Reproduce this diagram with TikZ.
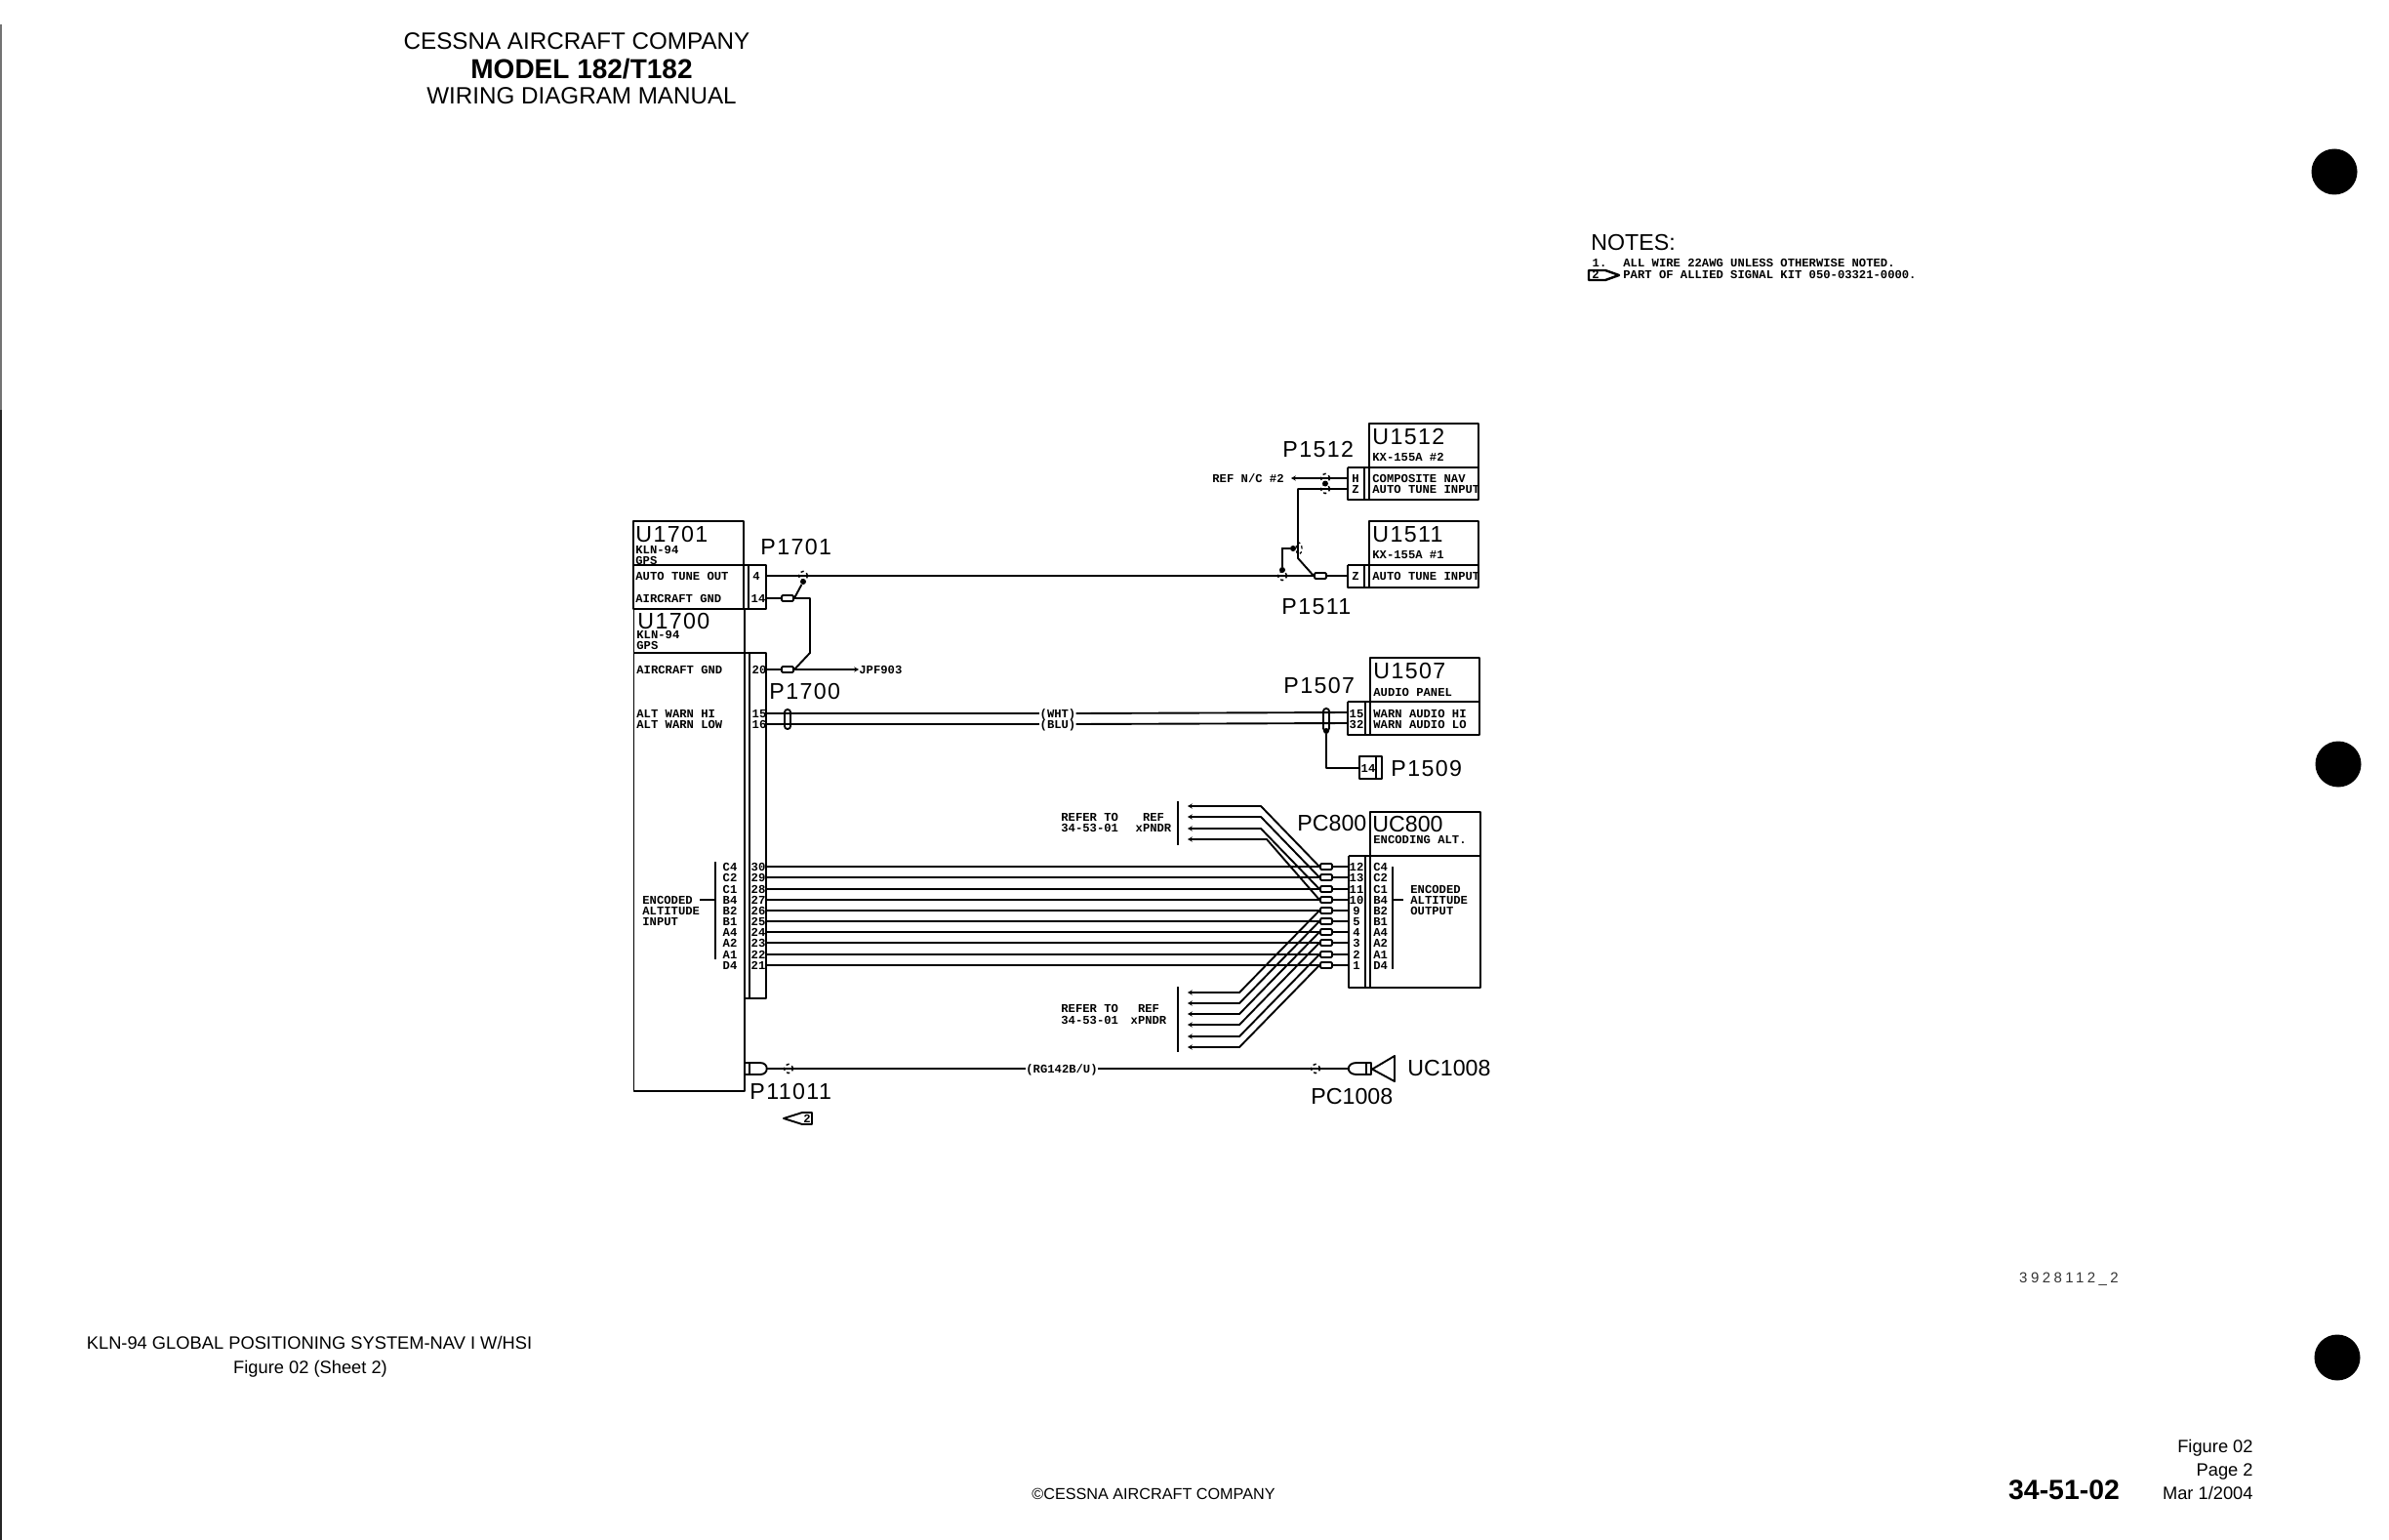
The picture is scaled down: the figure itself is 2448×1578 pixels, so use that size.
\documentclass[tikz,border=0pt]{standalone}
\usepackage{fontspec}
\usetikzlibrary{arrows.meta,shapes.geometric}
\setmainfont{Liberation Sans}
\newfontfamily\smf{Liberation Mono}
\newfontfamily\lblf[LetterSpace=6]{Liberation Sans}
\newfontfamily\lblg{Liberation Sans}
\newfontfamily\codef[LetterSpace=23]{Liberation Sans}
\tikzset{
  px/.style={x=0.5pt,y=-0.5pt},
  ln/.style={line width=0.95pt,line join=round},
  sm/.style={font=\fontsize{6.1}{6}\smf\bfseries,inner sep=0pt,text height=4pt,text depth=0pt},
  smw/.style={sm,anchor=west},
  big/.style={font=\fontsize{11.6}{12}\lblf,inner sep=0pt,text height=8.3pt,text depth=0pt,anchor=west},
  bigt/.style={big,font=\fontsize{11.6}{12}\lblg},
  hdr/.style={inner sep=0pt,text height=8.7pt,text depth=0pt,font=\fontsize{12.1}{13}\selectfont},
  foot/.style={inner sep=0pt,text height=6.6pt,text depth=0pt,font=\fontsize{9.15}{10}\selectfont},
  crimp/.style={draw,ln,rounded corners=0.6pt,minimum width=6pt,minimum height=3pt,inner sep=0pt},
  splice/.style={circle,draw,line width=0.7pt,dash pattern=on 1.6pt off 1.6pt,minimum size=4.6pt,inner sep=0pt},
  dot/.style={circle,fill=black,minimum size=3pt,inner sep=0pt},
  stub/.style={ln,{Stealth[length=2.4pt,width=2.6pt]}-},
  hole/.style={circle,fill=black,minimum size=23.5pt,inner sep=0pt}
}
\begin{document}
\begin{tikzpicture}[px]
\path[use as bounding box] (0,0) rectangle (2448,1578);
% page edge
\coordinate (edgeA) at (1,25); \coordinate (edgeB) at (1,420); \coordinate (edgeC) at (1,1578);
\draw[line width=0.6pt,black!55] (edgeA) -- (edgeB);
\draw[line width=1.1pt,black!85] (edgeB) -- (edgeC);
% binder holes
\node[hole] (holeA) at (2392,176) {};
\node[hole] (holeB) at (2396,783) {};
\node[hole] (holeC) at (2395,1391) {};
% header / footer
\node[hdr] (hA) at (591,42) {CESSNA AIRCRAFT COMPANY};
\node[hdr,font=\fontsize{14}{15}\bfseries] (hB) at (596,72) {MODEL 182/T182};
\node[hdr] (hC) at (596,98) {WIRING DIAGRAM MANUAL};
\node[foot] (fA) at (317,1376) {KLN-94 GLOBAL POSITIONING SYSTEM-NAV I W/HSI};
\node[foot] (fB) at (318,1401) {Figure 02 (Sheet 2)};
\node[foot,font=\fontsize{8.1}{9}\selectfont,text height=5.8pt] (fC) at (1182,1531) {©CESSNA AIRCRAFT COMPANY};
\node[foot,font=\fontsize{14.2}{15}\bfseries,text height=10pt] (fD) at (2115,1526) {34-51-02};
\node[foot,anchor=east] (fE) at (2309,1482) {Figure 02};
\node[foot,anchor=east] (fF) at (2309,1506) {Page 2};
\node[foot,anchor=east] (fG) at (2309,1530) {Mar 1/2004};
\node[inner sep=0pt,font=\fontsize{7.5}{8}\codef,black!80] (code) at (2120,1311) {3928112\_2};
% notes
\node[bigt] (notes) at (1630,248) {NOTES:};
\node[sm] (nOne) at (1639,270) {1.};
\node[smw] (nA) at (1663,270) {ALL WIRE 22AWG UNLESS OTHERWISE NOTED.};
\node[smw] (nB) at (1663,282) {PART OF ALLIED SIGNAL KIT 050-03321-0000.};
\draw[line width=1.2pt,line join=round] (1628,277) -- (1645,277) -- (1659,282) -- (1645,287) -- (1628,287) -- cycle;
\node[sm] (nTwo) at (1635,282) {2};

%%% U1701
\draw[ln] (649,534) rectangle (762,624);
\draw[ln] (649,579) -- (785,579) -- (785,624) -- (649,624);
\draw[ln] (767,579) -- (767,624);
\node[big] (U1701) at (651,547) {U1701};
\node[smw] (t1) at (651,563) {KLN-94};
\node[smw] (t2) at (651,574) {GPS};
\node[smw] (t3) at (651,590) {AUTO TUNE OUT};
\node[smw] (t4) at (651,613) {AIRCRAFT GND};
\node[sm] (pn4) at (775,590) {4};
\node[sm] (pn14) at (777,613) {14};
\node[big] (P1701) at (779,560) {P1701};
%%% U1700
\draw[ln] (649.5,624) -- (649.5,1118) -- (763,1118) -- (763,624);
\draw[ln] (649.5,669) -- (785,669) -- (785,1023) -- (763,1023);
\draw[ln] (768,669) -- (768,1023);
\node[big] (U1700) at (653,636) {U1700};
\node[smw] (t5) at (652,650) {KLN-94};
\node[smw] (t6) at (652,661) {GPS};
\node[smw] (t7) at (652,686) {AIRCRAFT GND};
\node[smw] (t8) at (652,731) {ALT WARN HI};
\node[smw] (t9) at (652,742) {ALT WARN LOW};
\node[sm] (pn20) at (778,686) {20};
\node[sm] (pn15) at (778,731) {15};
\node[sm] (pn16) at (778,742) {16};
\node[big] (P1700) at (788,708) {P1700};
%%% U1512
\draw[ln] (1403,434) rectangle (1515,512);
\draw[ln] (1381,479) -- (1515,479);
\draw[ln] (1381,479) -- (1381,512) -- (1403,512);
\draw[ln] (1398,479) -- (1398,512);
\node[big] (U1512) at (1406,447) {U1512};
\node[smw] (t10) at (1406,468) {KX-155A \#2};
\node[smw] (t11) at (1406,490) {COMPOSITE NAV};
\node[smw] (t12) at (1406,501) {AUTO TUNE INPUT};
\node[sm] (pnH) at (1389,490) {H};
\node[sm] (pnZa) at (1389,501) {Z};
\node[big] (P1512) at (1314,460) {P1512};
\node[smw] (ref2) at (1242,490) {REF N/C \#2};
%%% U1511
\draw[ln] (1403,534) rectangle (1515,602);
\draw[ln] (1381,579) -- (1515,579);
\draw[ln] (1381,579) -- (1381,602) -- (1403,602);
\draw[ln] (1398,579) -- (1398,602);
\node[big] (U1511) at (1406,547) {U1511};
\node[smw] (t13) at (1406,568) {KX-155A \#1};
\node[smw] (t14) at (1406,590) {AUTO TUNE INPUT};
\node[sm] (pnZb) at (1389,590) {Z};
\node[big] (P1511) at (1313,621) {P1511};
%%% U1507
\draw[ln] (1404,674) rectangle (1516,753);
\draw[ln] (1381,719) -- (1516,719);
\draw[ln] (1381,719) -- (1381,753) -- (1404,753);
\draw[ln] (1399,719) -- (1399,753);
\node[big] (U1507) at (1407,687) {U1507};
\node[smw] (t15) at (1407,709) {AUDIO PANEL};
\node[smw] (t16) at (1407,731) {WARN AUDIO HI};
\node[smw] (t17) at (1407,742) {WARN AUDIO LO};
\node[sm] (pn15b) at (1390,731) {15};
\node[sm] (pn32) at (1390,742) {32};
\node[big] (P1507) at (1315,702) {P1507};
%%% P1509
\draw[ln] (1393,775) rectangle (1416,798);
\draw[ln] (1410,775) -- (1410,798);
\node[sm] (pn14b) at (1402,787) {14};
\node[big] (P1509) at (1425,787) {P1509};
%%% UC800
\draw[ln] (1404,832) rectangle (1517,1012);
\draw[ln] (1382,877) -- (1517,877);
\draw[ln] (1382,877) -- (1382,1012) -- (1404,1012);
\draw[ln] (1399,877) -- (1399,1012);
\node[bigt] (UC800) at (1406,844) {UC800};
\node[smw] (t18) at (1407,860) {ENCODING ALT.};
\node[bigt] (PC800) at (1329,843) {PC800};
\draw[ln] (1427,888) -- (1427,993);
\draw[ln] (1427,922) -- (1438,922);
\node[smw] (t19) at (1445,911) {ENCODED};
\node[smw] (t20) at (1445,922) {ALTITUDE};
\node[smw] (t21) at (1445,933) {OUTPUT};
%%% encoded input block
\draw[ln] (733,883) -- (733,983);
\draw[ln] (717,922) -- (733,922);
\node[smw] (t22) at (658,922) {ENCODED};
\node[smw] (t23) at (658,933) {ALTITUDE};
\node[smw] (t24) at (658,944) {INPUT};

%%% ten encoded wires
\foreach \y/\l/\r/\s [count=\i] in {888/30/12/C4,899/29/13/C2,911/28/11/C1,922/27/10/B4,933/26/9/B2,944/25/5/B1,955/24/4/A4,966/23/3/A2,978/22/2/A1,989/21/1/D4}{
  \node[sm] (ls\i) at (748,\y) {\s};
  \node[sm] (ln\i) at (777,\y) {\l};
  \node[sm] (rn\i) at (1390,\y) {\r};
  \node[smw] (rs\i) at (1407,\y) {\s};
  \coordinate (lw\i) at (785,\y);
  \coordinate (rw\i) at (1382,\y);
  \node[crimp] (ck\i) at (1359,\y) {};
  \draw[ln] (lw\i) -- (ck\i.west);
  \draw[ln] (ck\i.east) -- (rw\i);
}
%%% upper xpndr references
\draw[ln] (1207,821) -- (1207,866);
\node[smw] (ra) at (1087,837) {REFER TO};
\node[smw] (rb) at (1087,848) {34-53-01};
\node[sm] (rc) at (1182,837) {REF};
\node[sm] (rd) at (1182,848) {xPNDR};
\foreach \y/\bx [count=\i] in {826/1292,837/1292,849/1292,860/1298}{
  \coordinate (us\i) at (1217,\y);
  \coordinate (ub\i) at (\bx,\y);
  \draw[stub] (us\i) -- (ub\i) -- (ck\i.west);
}
%%% lower xpndr references
\draw[ln] (1207,1011) -- (1207,1078);
\node[smw] (re) at (1087,1033) {REFER TO};
\node[smw] (rf) at (1087,1045) {34-53-01};
\node[sm] (rg2) at (1177,1033) {REF};
\node[sm] (rh) at (1177,1045) {xPNDR};
\foreach \y/\k [count=\i] in {1017/5,1028/6,1039/7,1050/8,1062/9,1073/10}{
  \coordinate (ds\i) at (1217,\y);
  \coordinate (db\i) at (1270,\y);
  \draw[stub] (ds\i) -- (db\i) -- (ck\k.west);
}

%%% auto tune / ground wiring
\coordinate (w4) at (785,590);
\coordinate (w14) at (785,613);
\coordinate (w20) at (785,686);
\node[crimp] (c14) at (807,613) {};
\node[crimp] (c20) at (807,686) {};
\node[splice] (s4) at (823,590) {};
\node[dot] (d4) at (823,596) {};
\node[splice] (sz) at (1314,590) {};
\node[dot] (dz) at (1314,584) {};
\node[crimp] (cz) at (1353,590) {};
\coordinate (wz) at (1381,590);
\draw[ln] (w4) -- (cz.west);
\draw[ln] (cz.east) -- (wz);
\draw[ln] (w14) -- (c14.west);
\draw[ln] (d4) -- (c14.east);
\coordinate (k1) at (830,613);
\coordinate (k2) at (830,669);
\draw[ln] (c14.east) -- (k1) -- (k2) -- (c20.east);
\draw[ln] (w20) -- (c20.west);
\node[smw] (pf) at (880,686) {JPF903};
\draw[ln,-{Stealth[length=2.4pt,width=2.6pt]}] (c20.east) -- (pf.west);
%%% P1512 side
\coordinate (w2h) at (1381,490);
\coordinate (w2z) at (1381,501);
\node[splice] (s2h) at (1358,490) {};
\node[splice] (s2z) at (1358,501) {};
\node[dot] (d2) at (1358,495.5) {};
\draw[stub] (ref2.east) ++(7,0) -- (w2h);
\coordinate (b1) at (1330,501);
\coordinate (b2) at (1330,572);
\draw[ln] (w2z) -- (b1) -- (b2) -- (cz.west);
\node[draw,ellipse,line width=0.6pt,dash pattern=on 1.4pt off 1.4pt,minimum width=3pt,minimum height=6pt,inner sep=0pt] (sb) at (1331,562) {};
\node[dot] (db) at (1325,562) {};
\coordinate (bc) at (1314,562);
\draw[line width=1.2pt] (db) -- (bc) -- (dz);
%%% twisted pair
\coordinate (w15) at (785,731);
\coordinate (w16) at (785,742);
\node[sm] (wht) at (1084,731) {(WHT)};
\node[sm] (blu) at (1084,742) {(BLU)};
\coordinate (e15) at (1381,730);
\coordinate (e16) at (1381,741);
\draw[ln] (w15) -- (wht.west);
\draw[ln] (w16) -- (blu.west);
\draw[ln] (wht.east) -- (e15);
\draw[ln] (blu.east) -- (e16);
\node[draw,ln,rounded corners=1.4pt,minimum width=3pt,minimum height=10pt,inner sep=0pt] (ovA) at (807,737) {};
\node[draw,ln,rounded corners=1.4pt,minimum width=3pt,minimum height=11.5pt,inner sep=0pt] (ovB) at (1359,737.5) {};
\node[dot] (ovd) at (1359,749) {};
\coordinate (sh) at (1359,787);
\coordinate (p1509w) at (1393,787);
\draw[ln] (ovd) -- (sh) -- (p1509w);
%%% coax
\draw[ln] (763,1089) -- (779,1089) .. controls (788,1089) and (788,1101) .. (779,1101) -- (763,1101);
\draw[ln] (768,1089) -- (768,1101);
\coordinate (cxA) at (786,1095);
\node[sm] (rg) at (1088,1095) {(RG142B/U)};
\node[splice] (sc1) at (808,1095) {};
\node[splice] (sc2) at (1348,1095) {};
\coordinate (cxB) at (1382,1095);
\draw[ln] (cxA) -- (rg.west);
\draw[ln] (rg.east) -- (cxB);
\draw[ln] (1405,1089) -- (1390,1089) .. controls (1379,1089) and (1379,1101) .. (1390,1101) -- (1405,1101) -- cycle;
\draw[ln] (1400,1089) -- (1400,1101);
\coordinate (ant) at (1407,1095);
\draw[ln] (1405,1095) -- (ant) -- (1429,1082) -- (1429,1108) -- cycle;
\node[bigt] (UC1008) at (1442,1094) {UC1008};
\node[bigt] (PC1008) at (1343,1123) {PC1008};
\node[big] (P11011) at (768,1118) {P11011};
%%% note flag
\draw[ln] (803,1146) -- (822,1140) -- (832,1140) -- (832,1152) -- (822,1152) -- cycle;
\node[sm] (flag) at (827,1146) {2};
\end{tikzpicture}
\end{document}
